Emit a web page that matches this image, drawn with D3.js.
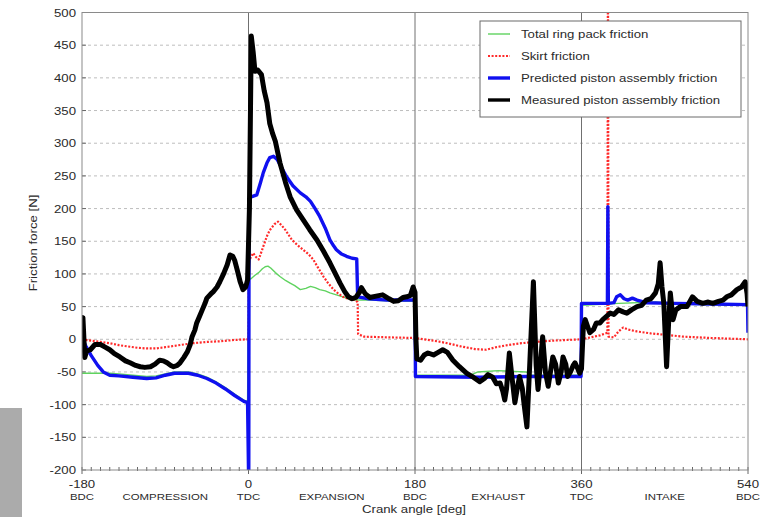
<!DOCTYPE html>
<html>
<head>
<meta charset="utf-8">
<script src="https://cdn.jsdelivr.net/npm/d3@7"></script>
<style>
  body { margin: 0; background: #fff; }
  svg { display: block; font-family: "Liberation Sans", Arial, sans-serif; }
</style>
</head>
<body>
<svg id="chart" width="771" height="517"></svg>
<script>
// Piston friction over one engine cycle.
const yTicks = [-200, -150, -100, -50, 0, 50, 100, 150, 200, 250, 300, 350, 400, 450, 500];
const xTicks = [-180, 0, 180, 360, 540];
const xDeadCentres = ["BDC", "TDC", "BDC", "TDC", "BDC"];
const strokes = [["COMPRESSION", -90], ["EXPANSION", 90], ["EXHAUST", 270], ["INTAKE", 450]];
const seriesNames = ["Total ring pack friction", "Skirt friction", "Predicted piston assembly friction", "Measured piston assembly friction"];

const ringPack = [
  [-180, -52], [-150, -52], [-140, -53], [-125, -55], [-110, -57], [-100, -56], [-90, -53], [-80, -50],
  [-65, -50], [-55, -53], [-45, -58], [-35, -65], [-25, -74], [-15, -84], [-5, -93], [-1, -95],
  [0, 91], [3, 93], [7, 98], [11, 102], [15, 108], [18, 111], [21, 112], [24, 109], [29, 102], [34, 96],
  [40, 90], [45, 86], [50, 82], [56, 76], [62, 78], [67, 81], [72, 79], [77, 76], [83, 74], [88, 71],
  [95, 68], [102, 65], [108, 62], [113, 60], [130, 60], [150, 59], [180, 58], [180.5, -55], [240, -55],
  [248, -50], [270, -48], [300, -50], [306, -55], [360, -55], [360.5, 52], [400, 55], [440, 57], [460, 54], [540, 52]
];

const skirt = [
  [-180, 0], [-170, -2], [-160, -4], [-150, -6], [-140, -9], [-130, -11], [-120, -13], [-110, -14],
  [-100, -14], [-90, -12], [-80, -10], [-70, -8], [-60, -6], [-45, -4], [-30, -3], [-15, -1], [0, 0],
  [0.5, 120], [5, 132], [8, 126], [11, 122], [16, 142], [20, 158], [23, 167], [28, 176], [32, 180],
  [36, 174], [40, 167], [47, 152], [53, 144], [59, 137], [65, 130], [70, 122], [75, 110], [81, 96],
  [86, 86], [92, 76], [97, 70], [102, 65], [108, 62], [115, 60], [118, 57], [118.5, 8], [125, 4],
  [150, 3], [180, 2], [200, -2], [215, -6], [230, -11], [245, -15], [257, -16], [268, -12], [280, -9],
  [295, -6], [310, -4], [330, -2], [345, -1], [360, 0], [370, 3], [380, 6], [388, 10], [388.6, 620],
  [389.2, 4], [395, 3], [400, 12], [405, 18], [410, 15], [420, 12], [435, 9], [450, 7], [470, 4],
  [500, 2], [540, 0]
];

const predicted = [
  [-180, 2], [-176, -10], [-170, -25], [-163, -40], [-157, -50], [-150, -55], [-140, -56], [-125, -58],
  [-110, -60], [-100, -59], [-90, -55], [-80, -52], [-65, -52], [-55, -55], [-45, -60], [-35, -67],
  [-25, -76], [-15, -86], [-5, -95], [-1, -97], [0, -200], [0.3, -200], [0.6, 215], [3, 218], [9, 221],
  [13, 240], [16, 255], [20, 270], [23, 278], [27, 280], [31, 275], [36, 262], [41, 249], [48, 235],
  [56, 224], [62, 218], [67, 211], [72, 200], [77, 188], [83, 170], [88, 152], [92, 143], [95, 137],
  [100, 131], [106, 127], [112, 124], [117, 123], [118, 65], [130, 62], [150, 60], [170, 60], [180, 60],
  [180.5, -57], [250, -58], [300, -57], [359.5, -57], [360, 55], [388, 55], [388.5, 203], [389, 55],
  [395, 56], [398, 65], [402, 68], [406, 62], [410, 60], [415, 63], [420, 60], [430, 56], [460, 55],
  [500, 54], [539.5, 53], [540, 10]
];

const measured = [
  [-180, 30], [-179, 33], [-177, -28], [-175, -18], [-171, -16], [-166, -8], [-160, -8], [-155, -12],
  [-150, -16], [-145, -22], [-139, -27], [-133, -33], [-128, -36], [-122, -40], [-117, -42], [-112, -43],
  [-106, -42], [-101, -38], [-96, -32], [-92, -33], [-88, -36], [-84, -40], [-81, -42], [-77, -40],
  [-74, -36], [-70, -28], [-66, -19], [-63, -8], [-61, 4], [-58, 14], [-56, 25], [-53, 35], [-50, 45],
  [-47, 55], [-45, 63], [-41, 69], [-38, 73], [-34, 80], [-31, 88], [-27, 100], [-23, 114], [-20, 129],
  [-17, 127], [-15, 121], [-12, 105], [-9, 88], [-6, 76], [-3, 80], [-1, 91], [1, 200], [3, 464],
  [5, 440], [7, 410], [10, 412], [14, 405], [17, 380], [20, 362], [23, 330], [26, 315], [29, 303],
  [34, 270], [40, 240], [45, 218], [52, 198], [59, 183], [66, 168], [74, 152], [81, 135], [88, 117],
  [94, 100], [99, 86], [104, 73], [108, 65], [112, 62], [116, 64], [120, 72], [122, 79], [126, 70],
  [131, 64], [138, 66], [145, 68], [152, 62], [157, 58], [162, 59], [167, 64], [171, 65], [175, 67],
  [178, 80], [180, 72], [181, 0], [182, -30], [186, -32], [190, -24], [194, -21], [200, -24], [205, -20],
  [210, -16], [215, -20], [221, -32], [228, -42], [236, -52], [243, -58], [250, -65], [255, -60],
  [259, -54], [264, -58], [268, -68], [272, -67], [275, -80], [277, -93], [279, -75], [282, -21],
  [285, -60], [288, -97], [290, -80], [293, -57], [296, -75], [298, -100], [301, -134], [304, -40],
  [308, 88], [311, -40], [313, -77], [316, -30], [318, 4], [321, -50], [324, -72], [327, -45], [329, -27],
  [332, -38], [335, -67], [338, -50], [340, -27], [343, -38], [345, -57], [348, -50], [351, -40],
  [353, -36], [356, -45], [358, -52], [360, -45], [362, 20], [364, 30], [367, 18], [369, 10], [373, 15],
  [376, 25], [380, 25], [383, 30], [387, 35], [391, 40], [395, 38], [400, 45], [405, 42], [409, 40],
  [414, 45], [420, 50], [425, 52], [430, 60], [435, 62], [440, 71], [443, 85], [445, 117], [447, 80],
  [449, 55], [452, -42], [454, 20], [456, 71], [459, 30], [462, 45], [467, 50], [474, 50], [480, 65],
  [485, 58], [491, 55], [497, 57], [502, 55], [508, 58], [513, 60], [517, 65], [522, 68], [528, 76],
  [533, 80], [537, 88], [539, 70], [540, 50]
];

const styles = [
  { data: ringPack, color: "#5fd35f", width: 1.4, dash: null },
  { data: skirt, color: "#ff2a2a", width: 2.2, dash: "2,1.6" },
  { data: predicted, color: "#1010f0", width: 3.4, dash: null },
  { data: measured, color: "#000", width: 5, dash: null }
];

const svg = d3.select("#chart");
const x = d3.scaleLinear().domain([-180, 540]).range([82, 748]);
const y = d3.scaleLinear().domain([-200, 500]).range([470, 12.5]);

// text in the scan is stretched sideways a little
function label(g, px, py, txt, anchor, size, rotate) {
  return g.append("text")
    .attr("transform", `translate(${px},${py})${rotate ? " rotate(-90)" : ""} scale(1.2,1)`)
    .attr("text-anchor", anchor)
    .attr("fill", "#2a2a2a")
    .style("font-size", size + "px")
    .text(txt);
}

// stray grey block at the bottom-left of the scan
svg.append("rect").attr("x", 0).attr("y", 408).attr("width", 22).attr("height", 109).attr("fill", "#ababab");

// grid
svg.append("g")
  .selectAll("line")
  .data(yTicks.filter(d => d > -200 && d < 500))
  .join("line")
  .attr("x1", x(-180)).attr("x2", x(540))
  .attr("y1", d => y(d)).attr("y2", d => y(d))
  .attr("stroke", "#bdbdbd").attr("stroke-dasharray", "3,3");

svg.append("g")
  .selectAll("line")
  .data([0, 180, 360])
  .join("line")
  .attr("x1", d => x(d)).attr("x2", d => x(d))
  .attr("y1", y(500)).attr("y2", y(-200))
  .attr("stroke", "#707070");

// minor ticks along the bottom
svg.append("g")
  .selectAll("line")
  .data(d3.range(-180, 541, 10))
  .join("line")
  .attr("x1", d => x(d)).attr("x2", d => x(d))
  .attr("y1", y(-200) - 3).attr("y2", d => y(-200) + (xTicks.includes(d) ? 4 : 1))
  .attr("stroke", "#666");

svg.append("g")
  .selectAll("line")
  .data(yTicks)
  .join("line")
  .attr("x1", x(-180)).attr("x2", x(-180) + 4)
  .attr("y1", d => y(d)).attr("y2", d => y(d))
  .attr("stroke", "#666");

// curves
svg.append("clipPath").attr("id", "plotclip")
  .append("rect").attr("x", x(-180)).attr("y", y(500))
  .attr("width", x(540) - x(-180)).attr("height", y(-200) - y(500));

const line = d3.line().x(d => x(d[0])).y(d => y(d[1]));
const curves = svg.append("g").attr("clip-path", "url(#plotclip)");
styles.forEach(s => {
  curves.append("path")
    .datum(s.data)
    .attr("d", line)
    .attr("fill", "none")
    .attr("stroke", s.color)
    .attr("stroke-width", s.width)
    .attr("stroke-dasharray", s.dash)
    .attr("stroke-linejoin", "round");
});

// frame
svg.append("rect")
  .attr("x", x(-180)).attr("y", y(500))
  .attr("width", x(540) - x(-180)).attr("height", y(-200) - y(500))
  .attr("fill", "none").attr("stroke", "#8a8a8a");

// axis labels
const txt = svg.append("g");
yTicks.forEach(t => label(txt, 76, y(t) + 4, t, "end", 11));
xTicks.forEach((t, i) => {
  label(txt, x(t), 488, t, "middle", 11);
  label(txt, x(t), 500, xDeadCentres[i], "middle", 9.5);
});
strokes.forEach(([name, mid]) => label(txt, x(mid), 500, name, "middle", 9.5));
label(txt, 414, 513, "Crank angle  [deg]", "middle", 11);
label(txt, 37, 243, "Friction force [N]", "middle", 11, true);

// legend
const legend = svg.append("g");
legend.append("rect")
  .attr("x", 480).attr("y", 21).attr("width", 261).attr("height", 96)
  .attr("fill", "#fff").attr("stroke", "#6a6a6a");
seriesNames.forEach((name, i) => {
  const ly = 34 + i * 22;
  legend.append("line")
    .attr("x1", 488).attr("x2", 510).attr("y1", ly).attr("y2", ly)
    .attr("stroke", styles[i].color)
    .attr("stroke-width", Math.min(styles[i].width, 3.4))
    .attr("stroke-dasharray", styles[i].dash);
  label(legend, 521, ly + 4, name, "start", 11);
});
</script>
</body>
</html>
